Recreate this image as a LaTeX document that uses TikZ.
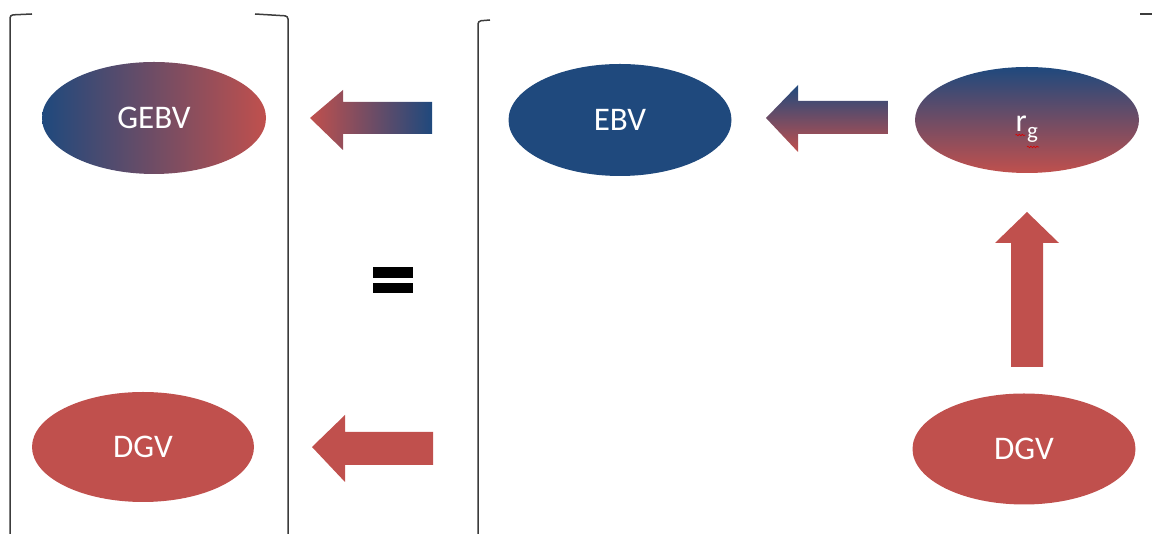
\documentclass[tikz,border=0pt]{standalone}
\usepackage{fontspec}
\setmainfont{Carlito}
\usetikzlibrary{shapes.geometric,decorations.pathmorphing}
\definecolor{oblue}{RGB}{31,73,125}
\definecolor{ored}{RGB}{192,80,77}
\definecolor{brk}{RGB}{60,60,60}
\tikzset{
  x=1pt, y=1pt,
  blob/.style={ellipse, inner sep=0pt, text=white,
    font=\fontsize{33}{33}\selectfont},
  bracketline/.style={draw=brk, line width=1.5pt, rounded corners=3pt},
  squiggle/.style={draw=red!85!black, line width=0.6pt,
    decorate, decoration={snake, amplitude=0.8pt, segment length=3pt}}
}
\begin{document}
\begin{tikzpicture}
\useasboundingbox (0,0) rectangle (1152,534);

% brackets
\draw[bracketline] (32,520) -- (10,519) -- (10,-2);
\draw[bracketline] (255,520) -- (288,518) -- (288,-2);
\draw[bracketline] (490,514) -- (478,513) -- (478,-2);
\draw[draw=brk, line width=1.5pt] (1140,520) -- (1152,520);

% ellipses
\node[blob, minimum width=224, minimum height=112,
      left color=oblue, right color=ored] (gebv) at (154,416) {GEBV};
\node[blob, minimum width=222, minimum height=110, fill=ored] (dgvL) at (143,87) {DGV};
\node[blob, minimum width=223, minimum height=112, fill=oblue] (ebv) at (620,414) {EBV};
\node[blob, minimum width=224, minimum height=106,
      top color=oblue, bottom color=ored] (rg) at (1027,414) {};
\node[blob, minimum width=223, minimum height=111, fill=ored] (dgvR) at (1024,85) {DGV};

% r_g label
\node[text=white, inner sep=0pt, anchor=base east,
      font=\fontsize{32}{32}\selectfont] (rlab) at (1027,402) {r};
\node[text=white, inner sep=0pt, anchor=base west,
      font=\fontsize{23}{23}\selectfont] (glab) at (1027,395) {g};
\draw[squiggle] (rlab.base west) ++(0,-3) -- ++(10,0);
\draw[squiggle] (glab.base west) ++(0,-8) -- ++(12,0);

% block arrows
\shade[left color=ored, right color=oblue]
  (310,416) -- (343,444) -- (343,432) -- (432,432) -- (432,400)
  -- (343,400) -- (343,384) -- cycle;
\shade[top color=oblue, bottom color=ored]
  (766,416) -- (798,449) -- (798,433) -- (888,433) -- (888,400)
  -- (798,400) -- (798,382) -- cycle;
\fill[ored]
  (312,87) -- (345,119) -- (345,102) -- (433,102) -- (433,69)
  -- (345,69) -- (345,52) -- cycle;
\fill[ored]
  (1027,322) -- (1059,291) -- (1043,291) -- (1043,167) -- (1011,167)
  -- (1011,291) -- (995,291) -- cycle;

% equals sign
\fill[black] (373,256) rectangle (413,267);
\fill[black] (373,241) rectangle (413,251);
\end{tikzpicture}
\end{document}
